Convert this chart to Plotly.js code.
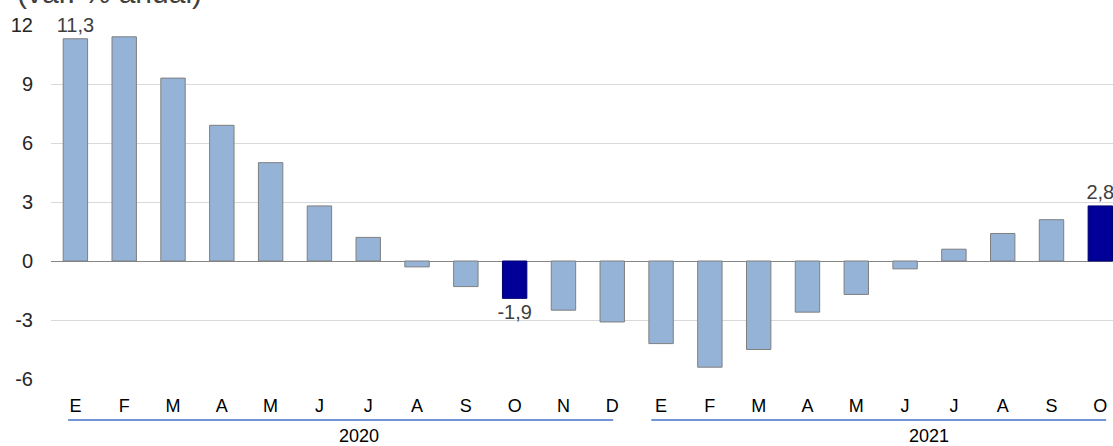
<!DOCTYPE html>
<html><head><meta charset="utf-8">
<script src="https://cdn.plot.ly/plotly-3.0.1.min.js"></script>
<style>html,body{margin:0;padding:0;overflow:hidden;background:#fff}#chart{width:1113px;height:446px}</style>
</head><body><div id="chart"></div>
<script>
const months = ["E","F","M","A","M","J","J","A","S","O","N","D","E","F","M","A","M","J","J","A","S","O"];
const values = [11.3,11.4,9.3,6.9,5.0,2.8,1.2,-0.3,-1.3,-1.9,-2.5,-3.1,-4.2,-5.4,-4.5,-2.6,-1.7,-0.4,0.6,1.4,2.1,2.8];
const highlighted = [9,21];
const labelled = [0,9,21];
const years = ["2020","2021"];
const yTicks = [-6,-3,0,3,6,9,12];

const idx = months.map((m,i)=>i);
const colors = idx.map(i=>highlighted.includes(i)?"#000099":"#95B3D7");
const lineColors = idx.map(i=>highlighted.includes(i)?"#00006e":"#7f7f7f");
const texts = idx.map(i=>labelled.includes(i)?values[i].toFixed(1).replace('.',','):'');

const fam = "Liberation Sans, Arial, sans-serif";

const trace = {
  type:"bar", x:idx, y:values,
  marker:{color:colors, line:{color:lineColors, width:1}},
  text:texts, textposition:"outside", cliponaxis:false, constraintext:"none",
  textfont:{family:fam, size:20, color:"#404040"},
  hoverinfo:"none"
};

const lineY = -0.116;
const layout = {
  width:1113, height:446,
  margin:{l:51, r:0, t:25, b:67},
  paper_bgcolor:"#fff", plot_bgcolor:"#fff",
  showlegend:false, bargap:0.5,
  font:{family:fam, size:18, color:"#000"},
  xaxis:{range:[-0.5,21.26], tickvals:idx, ticktext:months, showgrid:false, zeroline:false,
         showline:false, ticks:"", ticklabelstandoff:14, tickfont:{size:18, color:"#000", family:fam}},
  yaxis:{range:[-6,12], tickvals:yTicks, ticktext:yTicks.map(String), showgrid:true, gridcolor:"#d9d9d9", gridwidth:1,
         zeroline:true, zerolinecolor:"#868686", zerolinewidth:1, showline:false, ticks:"",
         ticklabelstandoff:17, tickfont:{size:20, color:"#262626", family:fam}},
  shapes:[
    {type:"line", xref:"x", yref:"paper", x0:-0.15, x1:11.02, y0:lineY, y1:lineY, line:{color:"#4472C4", width:1.5}},
    {type:"line", xref:"x", yref:"paper", x0:11.8, x1:21.12, y0:lineY, y1:lineY, line:{color:"#4472C4", width:1.5}}
  ],
  annotations:[
    {text:years[0], xref:"x", yref:"paper", x:5.81, y:lineY, yanchor:"top", yshift:-4, showarrow:false, font:{size:18, color:"#000", family:fam}},
    {text:years[1], xref:"x", yref:"paper", x:17.5, y:lineY, yanchor:"top", yshift:-4, showarrow:false, font:{size:18, color:"#000", family:fam}},
    {text:"(var. % anual)", xref:"paper", yref:"paper", x:0, xshift:-36, xanchor:"left", y:1, yanchor:"middle", yshift:33, showarrow:false, font:{size:30, color:"#404040", family:fam}}
  ]
};
Plotly.newPlot("chart",[trace],layout,{staticPlot:true, displayModeBar:false});
</script></body></html>
